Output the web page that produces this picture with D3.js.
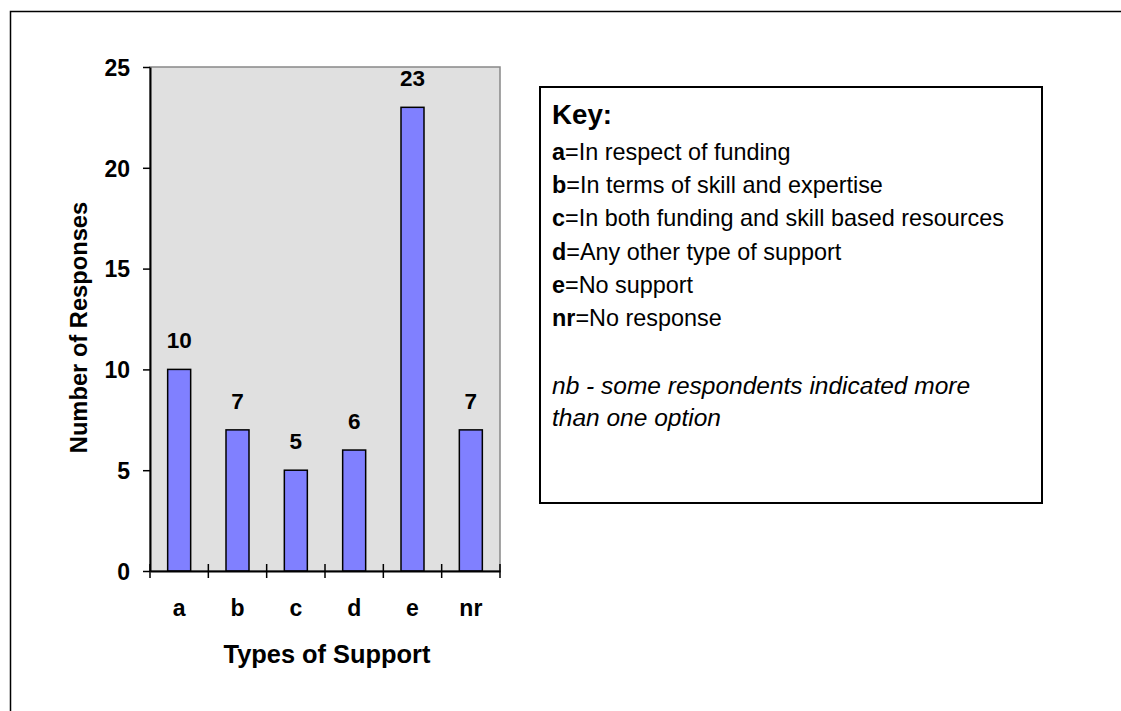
<!DOCTYPE html>
<html><head><meta charset="utf-8">
<script src="https://cdn.jsdelivr.net/npm/d3@7"></script>
<style>body{margin:0;background:#fff}svg{display:block}text{font-family:"Liberation Sans",Arial,sans-serif}</style>
</head><body>
<svg id="c" width="1121" height="711"></svg>
<script>
const categories = ["a","b","c","d","e","nr"];
const values = [10,7,5,6,23,7];
const yTicks = [0,5,10,15,20,25];
const keyTitle = "Key:";
const keyCodes = ["a","b","c","d","e","nr"];
const keyTexts = ["In respect of funding","In terms of skill and expertise","In both funding and skill based resources","Any other type of support","No support","No response"];
const noteLines = ["nb - some respondents indicated more","than one option"];

const svg = d3.select("#c");
svg.append("rect").attr("x",10.5).attr("y",11.5).attr("width",1200).attr("height",800)
  .attr("fill","#fff").attr("stroke","#000").attr("stroke-width",1.5);

const L=150,R=500,T=67,B=571;
const xb = d3.scaleBand().domain(categories).range([L,R]);
const y = d3.scaleLinear().domain([0,25]).range([B,T]);

svg.append("rect").attr("x",L).attr("y",T).attr("width",R-L).attr("height",B-T)
  .attr("fill","#e0e0e0").attr("stroke","#888").attr("stroke-width",1.5);

svg.selectAll(".bar").data(values).enter().append("rect")
  .attr("x",(d,i)=>xb(categories[i])+xb.bandwidth()/2-11.5)
  .attr("width",23)
  .attr("y",d=>y(d)).attr("height",d=>B-y(d))
  .attr("fill","#8080ff").attr("stroke","#000").attr("stroke-width",1.5);

svg.selectAll(".vl").data(values).enter().append("text")
  .attr("x",(d,i)=>xb(categories[i])+xb.bandwidth()/2)
  .attr("y",d=>y(d)-21).attr("text-anchor","middle")
  .attr("font-size",22.5).attr("font-weight","bold").text(d=>d);

// y axis
const ya = svg.append("g").attr("transform",`translate(${L},0)`)
  .call(d3.axisLeft(y).tickValues(yTicks).tickSize(7).tickPadding(13).tickSizeOuter(0));
ya.select(".domain").attr("stroke","#000").attr("stroke-width",2);
ya.selectAll(".tick line").attr("stroke","#000").attr("stroke-width",1.5);
ya.selectAll(".tick text").attr("font-size",23).attr("font-weight","bold").attr("fill","#000")
  .attr("font-family","Liberation Sans, Arial, sans-serif").attr("dy","0.36em");

// x axis
const xa = svg.append("g").attr("transform",`translate(0,${B})`)
  .call(d3.axisBottom(xb).tickSize(0).tickPadding(0));
xa.select(".domain").attr("stroke","#000").attr("stroke-width",2);
xa.selectAll(".tick text").attr("font-size",23).attr("font-weight","bold").attr("fill","#000")
  .attr("font-family","Liberation Sans, Arial, sans-serif").attr("dy",null).attr("y",45);
const edges = categories.map(c=>xb(c)).concat([R]);
svg.selectAll(".xt").data(edges).enter().append("line")
  .attr("x1",d=>d).attr("x2",d=>d).attr("y1",B-7).attr("y2",B+7)
  .attr("stroke","#000").attr("stroke-width",1.5);

svg.append("text").attr("x",327).attr("y",663).attr("text-anchor","middle")
  .attr("font-size",25.4).attr("font-weight","bold").text("Types of Support");
svg.append("text").attr("transform","translate(87,327.5) rotate(-90)").attr("text-anchor","middle")
  .attr("font-size",23.7).attr("font-weight","bold").text("Number of Responses");

// key box
svg.append("rect").attr("x",540).attr("y",87).attr("width",502).attr("height",416)
  .attr("fill","#fff").attr("stroke","#000").attr("stroke-width",2);
svg.append("text").attr("x",552).attr("y",124).attr("font-size",27.7).attr("font-weight","bold").text(keyTitle);
keyCodes.forEach((k,i)=>{
  const t = svg.append("text").attr("x",552).attr("y",160+i*33.2).attr("font-size",23.4);
  t.append("tspan").attr("font-weight","bold").text(k);
  t.append("tspan").text("="+keyTexts[i]);
});
noteLines.forEach((s,i)=>{
  svg.append("text").attr("x",552).attr("y",394+i*32).attr("font-size",24.5)
    .attr("font-style","italic").text(s);
});
</script>
</body></html>
